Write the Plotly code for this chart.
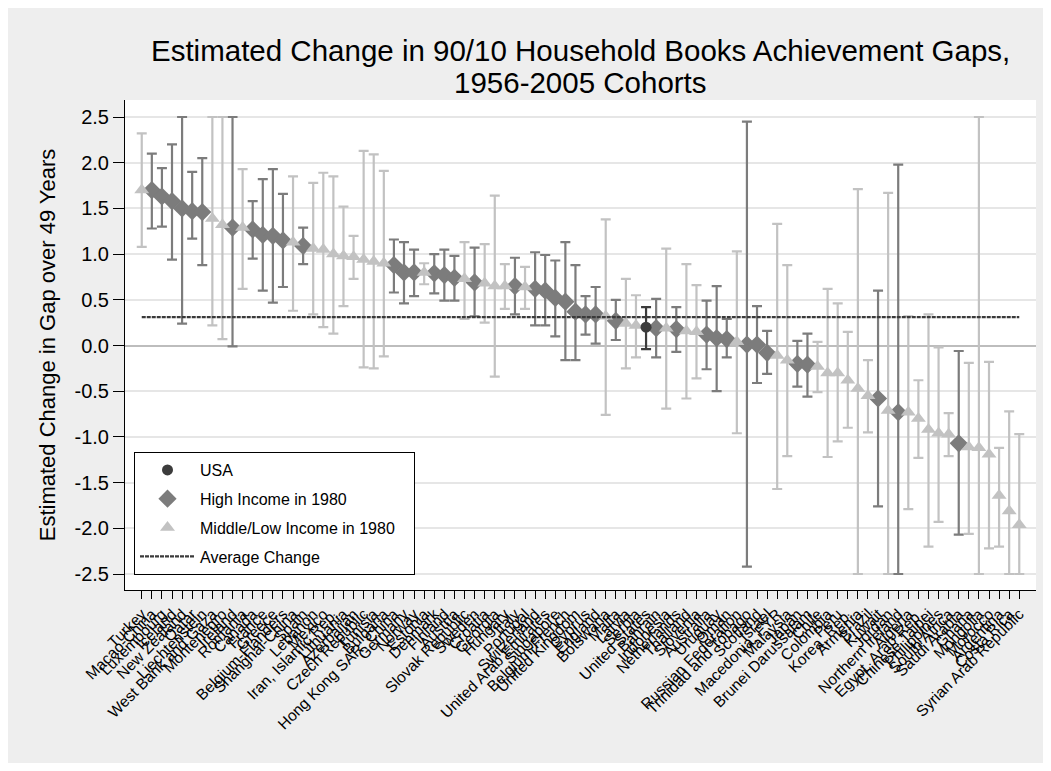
import plotly.graph_objects as go

countries = [
    "Turkey", "Macao-China", "Luxembourg", "Iceland", "New Zealand", "Qatar",
    "Liechtenstein", "West Bank and Gaza", "Montenegro", "Ireland", "Romania",
    "Canada", "France", "Greece", "Belgium-Flanders", "Shanghai-China", "Spain",
    "Lebanon", "Mexico", "Iran, Islamic Rep.", "Lithuania", "Azerbaijan",
    "Czech Republic", "Tunisia", "Bulgaria", "Hong Kong SAR, China", "Germany",
    "Norway", "Estonia", "Denmark", "Finland", "Austria", "Slovak Republic",
    "Sweden", "Croatia", "Georgia", "Hungary", "Italy", "Portugal", "Switzerland",
    "United Arab Emirates", "Singapore", "Belgium-French", "United Kingdom",
    "Cyprus", "England", "Botswana", "Malta", "Latvia", "Serbia", "United States",
    "Bahrain", "Indonesia", "Netherlands", "Thailand", "Slovenia", "Australia",
    "Uruguay", "Oman", "Russian Federation", "Trinidad and Tobago", "Scotland",
    "Israel", "Macedonia, FYR", "Malaysia", "Japan", "Brunei Darussalam", "Chile",
    "Colombia", "Peru", "Korea, Rep.", "Armenia", "Brazil", "Kuwait", "Jordan",
    "Northern Ireland", "Algeria", "Egypt, Arab Rep.", "Chinese Taipei",
    "Philippines", "South Africa", "Saudi Arabia", "Ghana", "Mongolia", "Morocco",
    "Argentina", "Costa Rica", "Syrian Arab Republic",
]

# U = USA, H = High Income in 1980, M = Middle/Low Income in 1980
groups = list(
    "MHHHHHHMMHMHHHHMHMMMMMMMMHHHMHHHMHMMMHMHHHHHHHMHMMUHMHMMHHHMHHHMMHHMMMMMMHMHMMMMMHMMMMMM"
)

estimates = [
    1.70, 1.70, 1.63, 1.58, 1.50, 1.47, 1.46, 1.39, 1.32, 1.29,
    1.29, 1.27, 1.21, 1.20, 1.15, 1.13, 1.09, 1.06, 1.05, 1.00,
    0.98, 0.97, 0.94, 0.92, 0.90, 0.88, 0.80, 0.80, 0.80, 0.79,
    0.77, 0.74, 0.73, 0.69, 0.68, 0.65, 0.65, 0.65, 0.64, 0.62,
    0.60, 0.52, 0.48, 0.37, 0.34, 0.34, 0.32, 0.27, 0.24, 0.22,
    0.20, 0.19, 0.19, 0.18, 0.16, 0.15, 0.12, 0.08, 0.07, 0.04,
    0.01, 0.01, -0.08, -0.11, -0.16, -0.20, -0.21, -0.23, -0.30, -0.30,
    -0.38, -0.47, -0.55, -0.58, -0.71, -0.73, -0.73, -0.80, -0.92, -0.96,
    -0.97, -1.07, -1.11, -1.12, -1.19, -1.64, -1.81, -1.96,
]

upper = [
    2.32, 2.10, 1.94, 2.20, 2.50, 1.90, 2.05, 2.50, 2.50, 2.50,
    1.93, 1.58, 1.82, 1.93, 1.66, 1.85, 1.29, 1.78, 1.89, 1.85,
    1.52, 1.20, 2.13, 2.09, 1.91, 1.16, 1.13, 1.05, 0.90, 1.00,
    1.05, 0.98, 1.13, 1.07, 1.11, 1.64, 0.89, 0.96, 0.86, 1.02,
    0.99, 0.93, 1.13, 0.88, 0.54, 0.64, 1.38, 0.50, 0.73, 0.55,
    0.42, 0.51, 1.06, 0.42, 0.89, 0.66, 0.49, 0.65, 0.29, 1.03,
    2.45, 0.43, 0.16, 1.33, 0.88, 0.05, 0.13, 0.04, 0.62, 0.46,
    0.15, 1.71, -0.16, 0.60, 1.67, 1.98, 0.32, -0.38, 0.34, -0.02,
    -0.74, -0.06, -0.19, 2.50, -0.18, -1.12, -0.72, -0.97,
]

lower = [
    1.08, 1.28, 1.30, 0.94, 0.24, 1.17, 0.88, 0.22, 0.07, -0.01,
    0.62, 0.95, 0.60, 0.47, 0.64, 0.38, 0.89, 0.34, 0.20, 0.13,
    0.43, 0.73, -0.24, -0.25, -0.12, 0.58, 0.46, 0.54, 0.67, 0.57,
    0.49, 0.49, 0.29, 0.32, 0.25, -0.34, 0.40, 0.34, 0.40, 0.22,
    0.22, 0.10, -0.16, -0.16, 0.12, 0.02, -0.76, 0.06, -0.25, -0.13,
    -0.04, -0.13, -0.69, -0.07, -0.58, -0.36, -0.26, -0.50, -0.13, -0.96,
    -2.42, -0.41, -0.31, -1.57, -1.21, -0.45, -0.56, -0.51, -1.22, -1.05,
    -0.90, -2.50, -0.95, -1.76, -2.50, -2.50, -1.79, -1.23, -2.20, -1.93,
    -1.21, -2.07, -2.06, -2.50, -2.22, -2.20, -2.50, -2.50,
]

average_change = 0.31

y_ticks = [2.5, 2.0, 1.5, 1.0, 0.5, 0.0, -0.5, -1.0, -1.5, -2.0, -2.5]

FONT = "Liberation Sans, Arial, Helvetica, sans-serif"
PAD = "\u00a0\u00a0\u00a0"

series = [
    ("H", "High Income in 1980", "#7c7c7c", "diamond", 14, 2),
    ("M", "Middle/Low Income in 1980" + PAD, "#c2c2c2", "triangle-up", 13, 3),
    ("U", "USA", "#3c3c3c", "circle", 11, 1),
]

fig = go.Figure()
for code, name, color, symbol, size, rank in series:
    idx = [i for i, g in enumerate(groups) if g == code]
    xs = [countries[i] for i in idx]
    ys = [estimates[i] for i in idx]
    plus = [upper[i] - estimates[i] for i in idx]
    minus = [estimates[i] - lower[i] for i in idx]
    fig.add_trace(go.Scatter(
        x=xs, y=ys, mode="markers", name=name, legendrank=rank, legendgroup=code,
        marker=dict(symbol=symbol, size=size, color=color, line=dict(width=0)),
        error_y=dict(type="data", symmetric=False, array=plus, arrayminus=minus,
                     color=color, thickness=2.2, width=5),
    ))

fig.add_trace(go.Scatter(
    x=[countries[0], countries[-1]], y=[average_change, average_change],
    mode="lines", name="Average Change", legendrank=4, legendgroup="avg",
    line=dict(color="#3a3a3a", width=2.2, dash="4px,1px"),
))

n = len(countries)
W, H = 1035, 755
L, T = 117, 92
PW, PH = 911, 490
fig.update_layout(
    width=W, height=H,
    margin=dict(l=L, r=W - L - PW, t=T, b=H - T - PH),
    paper_bgcolor="#eeeeee", plot_bgcolor="white",
    font=dict(family=FONT, color="black"),
    showlegend=True,
    legend=dict(
        x=9 / PW, y=(PH - 352) / PH, xanchor="left", yanchor="top",
        bgcolor="white", bordercolor="black", borderwidth=1,
        font=dict(size=16, family=FONT), itemwidth=55,
        traceorder="grouped", tracegroupgap=5,
    ),
    annotations=[
        dict(text="Estimated Change in 90/10 Household Books Achievement Gaps,",
             xref="paper", yref="paper", x=0.5, y=(PH + T - 42.5) / PH,
             xanchor="center", yanchor="middle", showarrow=False,
             font=dict(size=29.5, family=FONT)),
        dict(text="1956-2005 Cohorts",
             xref="paper", yref="paper", x=0.5, y=(PH + T - 74) / PH,
             xanchor="center", yanchor="middle", showarrow=False,
             font=dict(size=29.5, family=FONT)),
    ],
)

fig.update_xaxes(
    type="category", categoryorder="array", categoryarray=countries,
    tickmode="array", tickvals=countries, ticktext=countries,
    range=[-1.66, n - 1 + 1.66], tickangle=-45,
    ticks="outside", ticklen=8, tickcolor="black", tickwidth=1,
    showline=True, linecolor="black", linewidth=1,
    showgrid=False, zeroline=False,
    tickfont=dict(size=15.5, family=FONT),
)

fig.update_yaxes(
    range=[-2.675, 2.686], tickmode="array", tickvals=y_ticks,
    ticktext=[f"{v:.1f}" for v in y_ticks],
    ticks="outside", ticklen=11, tickcolor="black", tickwidth=1,
    showline=True, linecolor="black", linewidth=1,
    showgrid=True, gridcolor="#e6e6e6", gridwidth=2,
    zeroline=True, zerolinecolor="#bdbdbd", zerolinewidth=2,
    tickfont=dict(size=20, family=FONT),
    title=dict(text="Estimated Change in Gap over 49 Years",
               font=dict(size=22, family=FONT), standoff=12),
)

fig.write_html("out.html")
